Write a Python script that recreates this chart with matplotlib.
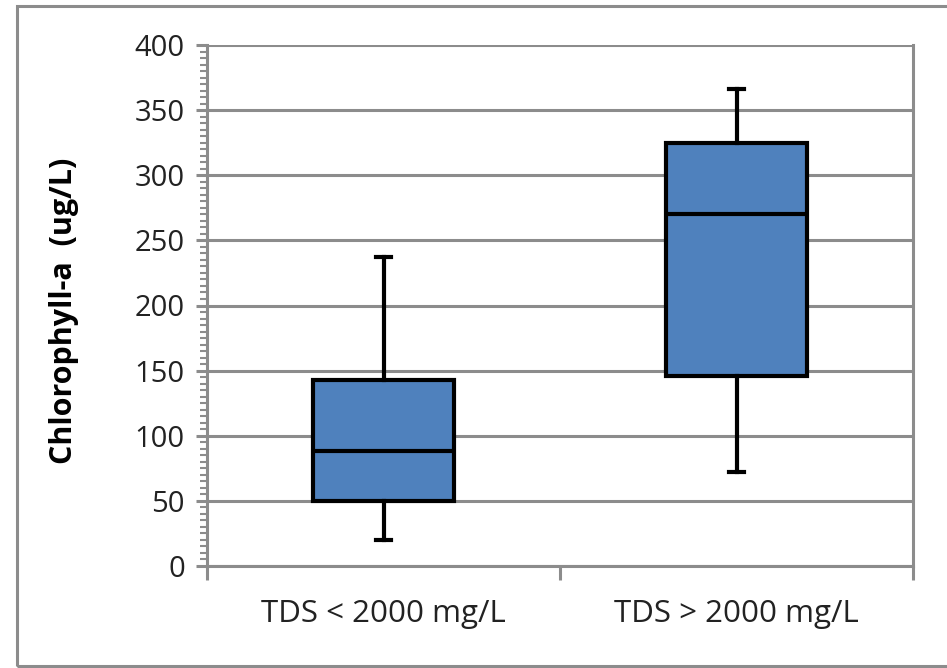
import matplotlib.pyplot as plt
from matplotlib.patches import Rectangle
from matplotlib.ticker import MultipleLocator

# values (ug/L)
groups = ["TDS < 2000 mg/L", "TDS > 2000 mg/L"]
whisker_low = [20, 72]
q1 = [50, 146]
median = [88, 270]
q3 = [143, 325]
whisker_high = [237, 366]

plt.rcParams["font.family"] = ["Open Sans", "DejaVu Sans"]

grid_col = "#8c8c8c"
box_col = "#4f81bd"

fig = plt.figure(figsize=(9.47, 6.68), dpi=100)
ax = fig.add_axes([207 / 947, 102 / 668, 706 / 947, 521 / 668])

# outer chart frame like Excel (right edge runs off the image)
fig.patches.append(Rectangle((17 / 947, 2 / 668), 1.05, 660 / 668,
                             transform=fig.transFigure, fill=False,
                             edgecolor=grid_col, linewidth=2.2))

stats = []
for i, g in enumerate(groups):
    stats.append(dict(label=g, whislo=whisker_low[i], q1=q1[i], med=median[i],
                      q3=q3[i], whishi=whisker_high[i], fliers=[]))

ax.bxp(stats, positions=[0, 1], widths=0.4, patch_artist=True,
       boxprops=dict(facecolor=box_col, edgecolor="black", linewidth=3),
       medianprops=dict(color="black", linewidth=3),
       whiskerprops=dict(color="black", linewidth=3),
       capprops=dict(color="black", linewidth=3),
       capwidths=0.04, zorder=3)

ax.set_xlim(-0.5, 1.5)
ax.set_ylim(0, 400)
ax.yaxis.set_major_locator(MultipleLocator(50))
ax.yaxis.set_minor_locator(MultipleLocator(5))
ax.grid(axis="y", color=grid_col, linewidth=2.2, zorder=0)
ax.set_axisbelow(True)

for s in ax.spines.values():
    s.set_color(grid_col)
    s.set_linewidth(2.2)
ax.spines["top"].set_visible(False)

ax.set_xticks([0, 1])
ax.set_xticklabels(groups)
ax.set_xticks([-0.5, 0.5, 1.5], minor=True)
ax.tick_params(axis="x", which="major", length=0, labelsize=22.5, pad=24, colors="#222222")
ax.tick_params(axis="x", which="minor", length=10, width=2.2, color=grid_col)
ax.tick_params(axis="y", which="major", length=8, width=2.2, color=grid_col,
               labelsize=21, labelcolor="#222222", pad=8)
ax.tick_params(axis="y", which="minor", length=5, width=1.5, color=grid_col)

ax.set_ylabel("Chlorophyll-a  (ug/L)", fontsize=22, fontweight="bold")
ax.yaxis.set_label_coords(-0.182, 0.49)

fig.savefig("out.png", dpi=100)
